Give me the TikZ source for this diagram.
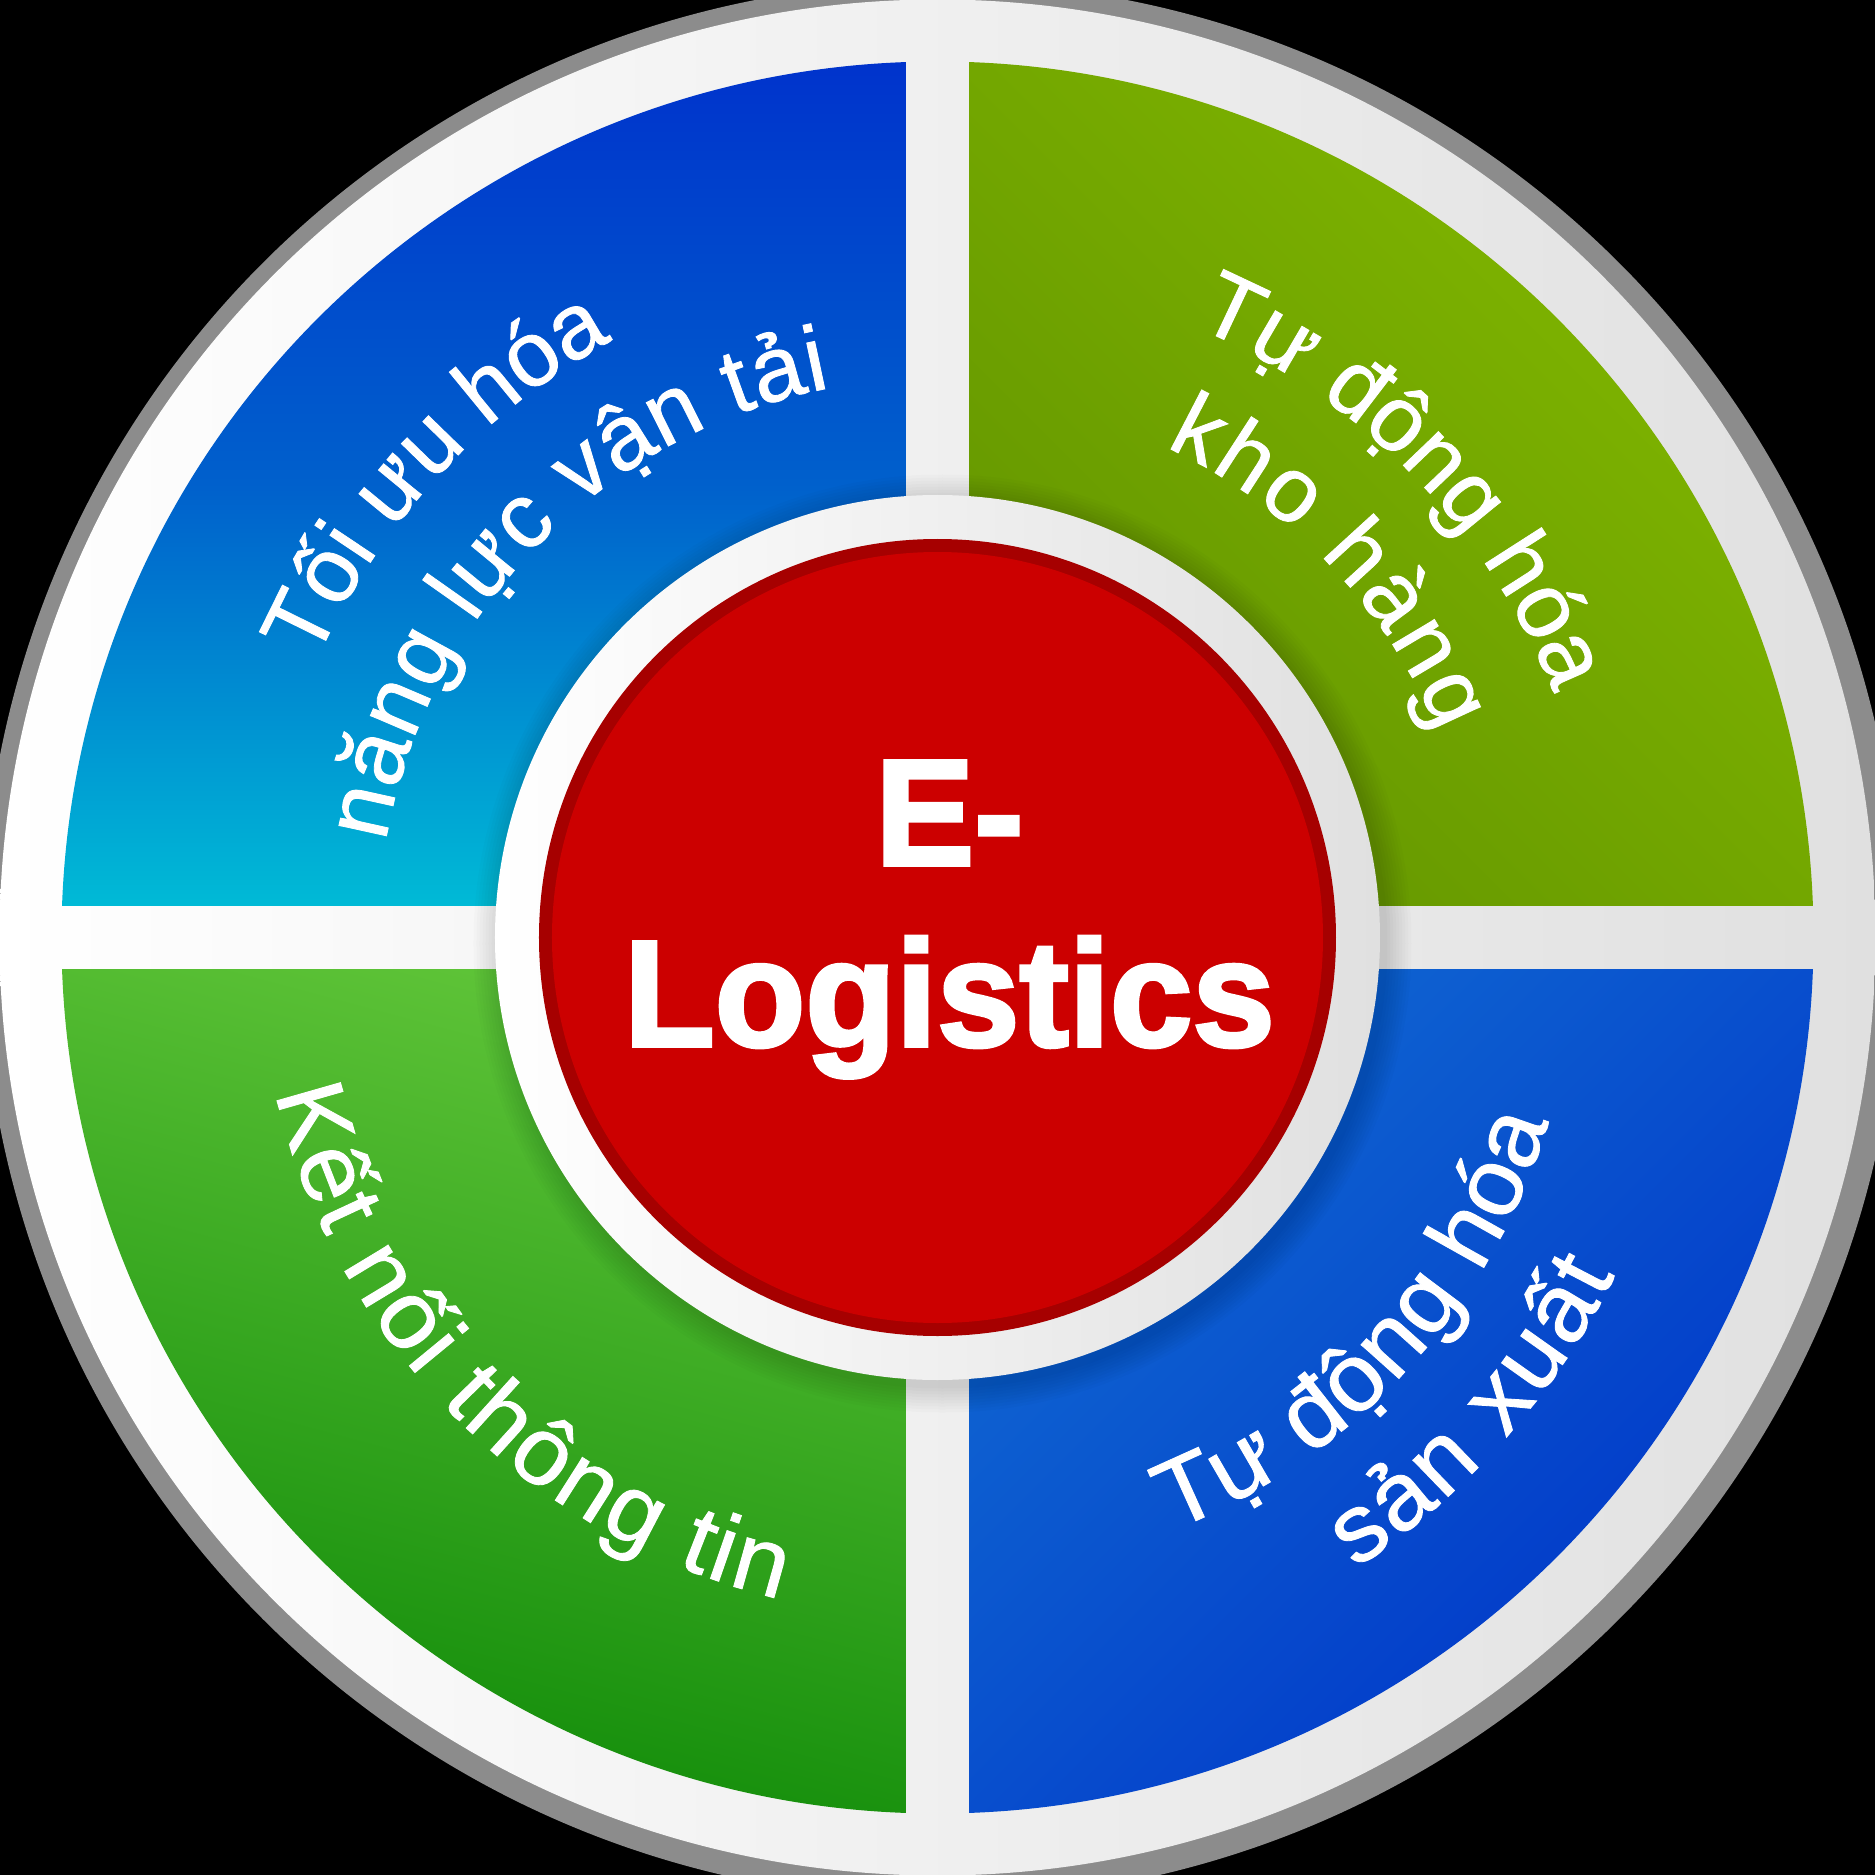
\documentclass[tikz,border=0pt]{standalone}
\usepackage{fontspec}
\setmainfont{Liberation Sans}
\newfontfamily\labfam[FakeBold=0.9,FakeStretch=1.03]{Liberation Sans}
\newfontfamily\labtop[FakeBold=0.9]{Liberation Sans}
\newfontfamily\hubfam[FakeBold=2.5,FakeStretch=0.98]{Liberation Sans Bold}
\usetikzlibrary{decorations.text}
\definecolor{rim}{HTML}{8C8C8C}
\definecolor{ringlight}{HTML}{FFFFFF}
\definecolor{ringdark}{HTML}{E0E0E0}
\definecolor{redcore}{HTML}{CC0000}
\definecolor{redring}{HTML}{A60000}
\definecolor{tlA}{HTML}{0033CC}\definecolor{tlB}{HTML}{0060CC}\definecolor{tlC}{HTML}{00BAD6}
\definecolor{trA}{HTML}{82B800}\definecolor{trB}{HTML}{649600}
\definecolor{brA}{HTML}{1068D2}\definecolor{brB}{HTML}{0034C8}
\definecolor{blA}{HTML}{5FC438}\definecolor{blB}{HTML}{0F8A08}
\newcommand\labf{\color{white}\labfam\fontsize{27.3}{30}\selectfont}
\newcommand\labg{\color{white}\labtop\fontsize{26.2}{30}\selectfont}
\tikzset{
  arcl/.style n args={1}{decorate,decoration={text along path,text={|\labf|#1},text align={fit to path}}},
  arct/.style n args={1}{decorate,decoration={text along path,text={|\labg|#1},text align={fit to path}}},
  ringfill/.style={left color=ringlight,right color=ringdark},
}
\begin{document}
\begin{tikzpicture}[x=0.01cm,y=0.01cm]
\useasboundingbox (-937.5,-937.5) rectangle (937.5,937.5);
\fill[black] (-937.5,-937.5) rectangle (937.5,937.5);
\begin{scope}
\clip (-937.5,-937.5) rectangle (937.5,937.5);
\fill[rim] (3.5,-3.5) circle (959);
\end{scope}
\shade[ringfill] (0,0) circle (938);
\begin{scope}
\clip (0,0) circle (876);
\shade[top color=tlA,bottom color=tlC,middle color=tlB] (-876,32) rectangle (-32,876);
\shade[bottom color=trB,top color=trA,shading angle=-45] (32,32) rectangle (876,876);
\shade[bottom color=blB,top color=blA,shading angle=-15] (-876,-876) rectangle (-32,-32);
\shade[bottom color=brB,top color=brA,shading angle=45] (32,-876) rectangle (876,-32);
\end{scope}
% soft shadow of the hub
\foreach \r in {445,448,...,469}{\fill[black,opacity=0.014] (5,-6) circle (\r);}
\shade[ringfill] (0,0) circle (442.5);
\fill[redring] (0,0) circle (398.5);
\fill[redcore] (0,0) circle (385.5);
\node[text=white,font=\hubfam\fontsize{43}{51.5}\selectfont,align=center,inner sep=0pt] (hub) at (12,18) {E-\\Logistics};
% labels on arcs round the hub
\path[arct={Tối ưu hóa}] (156.1:680) arc[start angle=156.1,end angle=118.8,radius=680];
\path[arct={năng lực vận tải}] (170.2:560) arc[start angle=170.2,end angle=101,radius=560];
\path[arct={Tự động hóa}] (67.2:663) arc[start angle=67.2,end angle=21.8,radius=663];
\path[arct={kho hàng}] (65.1:541) arc[start angle=65.1,end angle=22.2,radius=541];
\path[arcl={Kết nối thông tin}] (193.2:680) arc[start angle=193.2,end angle=256.6,radius=680];
\path[arcl={Tự động hóa}] (-68.4:638) arc[start angle=-68.4,end angle=-16.8,radius=638];
\path[arcl={sản xuất}] (-56.5:757) arc[start angle=-56.5,end angle=-26.5,radius=757];
\end{tikzpicture}
\end{document}
